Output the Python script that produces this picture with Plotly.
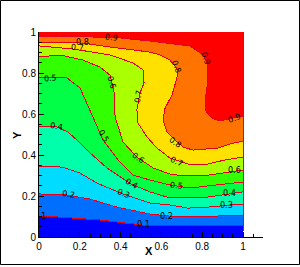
import plotly.graph_objects as go

# Contour lines (x, y in data units)
levels = [0.0, 0.1, 0.2, 0.3, 0.4, 0.5, 0.6, 0.7, 0.8, 0.9]
band_colors = ["#0000ff", "#006eff", "#00dcff", "#00ffaa", "#00ff46",
               "#32ff00", "#aaff00", "#ffe100", "#ff7300", "#ff0000"]

x00 = [0, 1]
y00 = [0, 0]
x01 = [0, .088, .299, .461, .544, .642, 1]
y01 = [.098, .098, .083, .063, .054, .054, .054]
x02 = [0, .137, .25, .382, .544, .642, .755, .873, 1]
y02 = [.21, .205, .185, .146, .112, .102, .098, .102, .107]
x03 = [0, .113, .201, .284, .412, .544, .642, .73, .828, 1]
y03 = [.346, .341, .312, .263, .21, .166, .156, .141, .146, .161]
x04 = [0, .088, .142, .186, .25, .333, .451, .544, .627, .725, .828, 1]
y04 = [.537, .537, .512, .473, .41, .337, .259, .22, .195, .195, .195, .22]
x05 = [0, .137, .201, .25, .314, .333, .387, .461, .544, .642, .74, .828, 1]
y05 = [.78, .776, .727, .62, .473, .449, .376, .302, .278, .254, .239, .249, .268]
x06 = [0, .103, .216, .299, .348, .368, .373, .412, .48, .559, .642, .706, .804, 1]
y06 = [.878, .888, .863, .829, .79, .707, .585, .463, .39, .337, .307, .298, .298, .327]
x07 = [0, .167, .348, .461, .51, .515, .495, .48, .485, .529, .578, .642, .73, .828, .912, 1]
y07 = [.932, .917, .888, .849, .815, .751, .702, .62, .556, .488, .434, .385, .356, .356, .376, .39]
x08 = [0, .216, .348, .544, .593, .642, .681, .676, .652, .618, .608, .627, .667, .706, .755, .828, .877, .936, 1]
y08 = [.951, .946, .927, .902, .888, .863, .815, .776, .693, .629, .571, .512, .473, .439, .424, .429, .434, .454, .468]
x09 = [0, .25, .397, .544, .74, .755, .804, .824, .824, .814, .819, .848, .887, .951, 1]
y09 = [.976, .976, .971, .956, .932, .922, .888, .849, .732, .668, .61, .58, .566, .58, .59]

right_edge_x = [1, 1]
right_edge_y = [.03, 1]

# Contour labels
label_text = ["1", "0.1", "0.2", "0.2", "0.3", "0.3", "0.4", "0.4", "0.4",
              "0.5", "0.5", "0.5", "0.6", "0.6", "0.6", "0.7", "0.7", "0.7",
              "0.8", "0.8", "0.8", "0.9", "0.9", "0.9"]
label_x = [.02, .51, .147, .627, .412, .917, .088, .451, .936,
           .054, .314, .672, .358, .49, .956, .191, .49, .672,
           .211, .667, .676, .353, .819, .956]
label_y = [.102, .063, .205, .102, .21, .156, .537, .259, .21,
           .771, .493, .249, .756, .385, .322, .922, .688, .366,
           .951, .463, .829, .971, .873, .58]
label_angle = [0, 0, 10, 0, 20, 0, 10, 30, 0,
               -5, 60, 5, 75, 35, 0, 5, -80, 25,
               0, 35, 70, 5, 70, -20]

lines_x = [x00, x01, x02, x03, x04, x05, x06, x07, x08, x09]
lines_y = [y00, y01, y02, y03, y04, y05, y06, y07, y08, y09]

fig = go.Figure()
for lvl, col, lx, ly in zip(levels, band_colors, lines_x, lines_y):
    fig.add_trace(go.Scatter(x=lx + [1, 0], y=ly + [1, 1], mode="lines", fill="toself",
                             fillcolor=col, line=dict(width=0), hoverinfo="skip",
                             showlegend=False))
for lvl, lx, ly in zip(levels[1:], lines_x[1:], lines_y[1:]):
    fig.add_trace(go.Scatter(x=lx, y=ly, mode="lines", line=dict(color="#e6001e", width=1),
                             name=str(lvl), showlegend=False))
fig.add_trace(go.Scatter(x=right_edge_x, y=right_edge_y, mode="lines",
                         line=dict(color="#e6001e", width=1), showlegend=False))

for t, lx, ly, a in zip(label_text, label_x, label_y, label_angle):
    fig.add_annotation(x=lx, y=ly, text=t, textangle=a, showarrow=False,
                       font=dict(family="DejaVu Sans", size=8, color="black"))

axis_font = dict(family="Liberation Sans", size=10, color="black")
fig.update_xaxes(range=[0, 1.098], tick0=0, dtick=0.2, ticks="inside", ticklen=5, tickcolor="black",
                 tickwidth=1, showline=True, linecolor="black", linewidth=1, showgrid=False,
                 zeroline=False, tickfont=axis_font,
                 minor=dict(dtick=0.05, tick0=0, ticks="inside", ticklen=3, tickcolor="black", showgrid=False))
fig.update_yaxes(range=[0, 1], tick0=0, dtick=0.2, ticks="inside", ticklen=5, tickcolor="black",
                 tickwidth=1, showline=True, linecolor="black", linewidth=1, showgrid=False,
                 zeroline=False, tickfont=axis_font,
                 minor=dict(dtick=0.05, tick0=0, ticks="inside", ticklen=3, tickcolor="black", showgrid=False))

L, R, T, B = 39, 37, 32, 30
w = 300 - L - R
h = 267 - T - B
fig.update_layout(width=300, height=267, margin=dict(l=L, r=R, t=T, b=B, autoexpand=False),
                  paper_bgcolor="white", plot_bgcolor="white", showlegend=False)

title_font = dict(family="Liberation Sans", size=11, color="black")
fig.add_annotation(xref="paper", yref="paper", x=(149 - L) / w, y=(267 - B - 251) / h,
                   xanchor="center", yanchor="middle",
                   text="<b>X</b>", showarrow=False, font=title_font)
fig.add_annotation(xref="paper", yref="paper", x=(17 - L) / w, y=(267 - B - 135) / h,
                   xanchor="center", yanchor="middle",
                   text="<b>Y</b>", textangle=-90, showarrow=False, font=title_font)

# Outer frame of the picture
fig.add_shape(type="rect", xref="paper", yref="paper",
              x0=(0.5 - L) / w, x1=(299.5 - L) / w,
              y0=(267 - B - 264.5) / h, y1=(267 - B - 0.5) / h,
              line=dict(color="black", width=1))

fig.write_html("out.html", config=dict(displayModeBar=False),
               post_script="document.body.style.margin='0';document.body.style.overflow='hidden';"
                           "var st=document.createElement('style');"
                           "st.textContent='.scatterlayer path{shape-rendering:crispEdges}';"
                           "document.head.appendChild(st);")
